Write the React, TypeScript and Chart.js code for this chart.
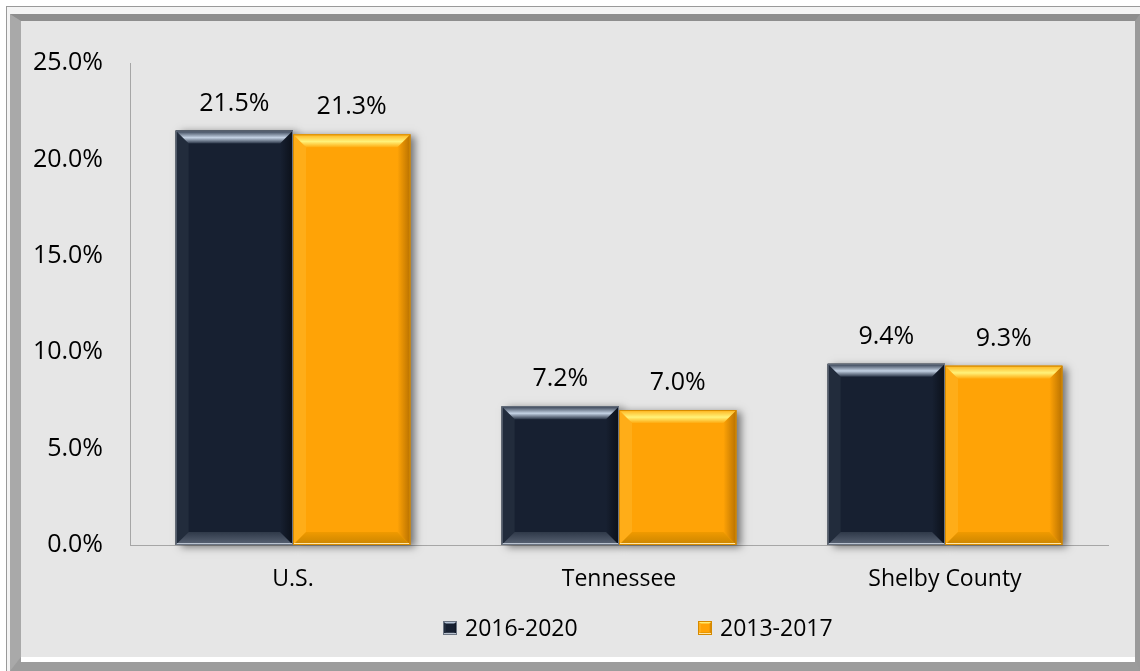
import React, { useEffect, useRef } from "react";
import { Chart, registerables } from "chart.js";

Chart.register(...registerables);

const categories = ["U.S.", "Tennessee", "Shelby County"];
const series2016 = [21.5, 7.2, 9.4];
const series2013 = [21.3, 7.0, 9.3];
const seriesLabels = ["2016-2020", "2013-2017"];
const yTicks = [0, 5, 10, 15, 20, 25];

const FONT = "'Open Sans', 'Noto Sans', sans-serif";
const FS = 23;
const FS_BIG = 25;

const palettes = [
  { base: "#172031", top: ["#2a3547", "#c4d2e4", "#2a3547"], left: "#222c3c", right: "#0b1019", bottom: ["#2f3949", "#5b6576"], edge: "#6b7482", bottomLine: "#b9c2cf" },
  { base: "#ffa306", top: ["#ffb21a", "#fff27a", "#ffab10"], left: "#ffad18", right: "#b87100", bottom: ["#f09a00", "#c98400"], edge: "#d58a00", bottomLine: "#ffe6a8" },
];

function bevel(ctx: CanvasRenderingContext2D, l: number, t: number, r: number, b: number, p: any, d: number) {
  ctx.save();
  const h = b - t;
  const dd = Math.min(d, h / 2, (r - l) / 2);
  ctx.fillStyle = p.left;
  ctx.beginPath();
  ctx.moveTo(l, t); ctx.lineTo(l + dd, t + dd); ctx.lineTo(l + dd, b - dd); ctx.lineTo(l, b); ctx.closePath(); ctx.fill();
  const gr = ctx.createLinearGradient(r - dd, 0, r, 0);
  gr.addColorStop(0, p.base);
  gr.addColorStop(1, p.right);
  ctx.fillStyle = gr;
  ctx.beginPath();
  ctx.moveTo(r, t); ctx.lineTo(r - dd, t + dd); ctx.lineTo(r - dd, b - dd); ctx.lineTo(r, b); ctx.closePath(); ctx.fill();
  const gt = ctx.createLinearGradient(0, t, 0, t + dd);
  gt.addColorStop(0, p.top[0]);
  gt.addColorStop(0.55, p.top[1]);
  gt.addColorStop(1, p.top[2]);
  ctx.fillStyle = gt;
  ctx.beginPath();
  ctx.moveTo(l, t); ctx.lineTo(r, t); ctx.lineTo(r - dd, t + dd); ctx.lineTo(l + dd, t + dd); ctx.closePath(); ctx.fill();
  const gb = ctx.createLinearGradient(0, b - dd, 0, b);
  gb.addColorStop(0, p.bottom[0]);
  gb.addColorStop(1, p.bottom[1]);
  ctx.fillStyle = gb;
  ctx.beginPath();
  ctx.moveTo(l, b); ctx.lineTo(r, b); ctx.lineTo(r - dd, b - dd); ctx.lineTo(l + dd, b - dd); ctx.closePath(); ctx.fill();
  ctx.fillStyle = p.bottomLine;
  ctx.fillRect(l + 1, b - 2, r - l - 2, 2);
  ctx.strokeStyle = p.edge;
  ctx.lineWidth = 1;
  ctx.strokeRect(l + 0.5, t + 0.5, r - l - 1, b - t - 1);
  ctx.restore();
}

const bevelPlugin = {
  id: "bevelPlugin",
  beforeDatasetsDraw(chart: any) {
    const ctx = chart.ctx;
    chart.data.datasets.forEach((ds: any, di: number) => {
      const meta = chart.getDatasetMeta(di);
      meta.data.forEach((bar: any) => {
        const l = bar.x - bar.width / 2;
        ctx.save();
        ctx.shadowColor = "rgba(0,0,0,0.5)";
        ctx.shadowBlur = 8;
        ctx.shadowOffsetX = 5;
        ctx.shadowOffsetY = 2;
        ctx.fillStyle = "#808080";
        ctx.fillRect(l, bar.y, bar.width, bar.base - bar.y);
        ctx.restore();
      });
    });
  },
  afterDatasetsDraw(chart: any) {
    const ctx = chart.ctx;
    chart.data.datasets.forEach((ds: any, di: number) => {
      const meta = chart.getDatasetMeta(di);
      meta.data.forEach((bar: any, i: number) => {
        const l = bar.x - bar.width / 2;
        const r = bar.x + bar.width / 2;
        ctx.fillStyle = palettes[di].base;
        ctx.fillRect(l, bar.y, r - l, bar.base - bar.y);
        bevel(ctx, l, bar.y, r, bar.base, palettes[di], 13);
        const v = ds.data[i];
        ctx.save();
        ctx.fillStyle = "#000";
        ctx.font = `${FS_BIG}px ${FONT}`;
        ctx.textAlign = "center";
        ctx.textBaseline = "middle";
        ctx.fillText(v.toFixed(1) + "%", bar.x, bar.y - 27);
        ctx.restore();
      });
    });
  },
  afterDraw(chart: any) {
    const ctx = chart.ctx;
    const cy = chart.chartArea.bottom + 83;
    const starts = [422, 677];
    ctx.save();
    ctx.font = `${FS}px ${FONT}`;
    ctx.textBaseline = "middle";
    ctx.textAlign = "left";
    chart.data.datasets.forEach((ds: any, di: number) => {
      const x = starts[di];
      const p = palettes[di];
      ctx.fillStyle = p.base;
      ctx.fillRect(x, cy - 7, 14, 14);
      bevel(ctx, x, cy - 7, x + 14, cy + 7, p, 3);
      ctx.fillStyle = "#000";
      ctx.fillText(ds.label, x + 22, cy + 1);
    });
    ctx.restore();
  },
};

export default function App() {
  const ref = useRef<HTMLCanvasElement>(null);
  useEffect(() => {
    document.body.style.margin = "0";
    const chart = new Chart(ref.current!, {
      type: "bar",
      data: {
        labels: categories,
        datasets: [
          { label: seriesLabels[0], data: series2016, backgroundColor: "rgba(0,0,0,0)", borderWidth: 0 },
          { label: seriesLabels[1], data: series2013, backgroundColor: "rgba(0,0,0,0)", borderWidth: 0 },
        ],
      },
      options: {
        animation: false,
        responsive: false,
        layout: { padding: { top: 36, right: 27, bottom: 52, left: 0 } },
        datasets: { bar: { categoryPercentage: 0.72, barPercentage: 1 } },
        plugins: { legend: { display: false }, tooltip: { enabled: false } },
        scales: {
          x: {
            grid: { display: false, drawTicks: false },
            border: { color: "#a6a6a6", width: 1 },
            ticks: { color: "#000", font: { family: FONT, size: FS }, padding: 21 },
            afterFit: (s: any) => { s.height = 60; },
          },
          y: {
            min: 0,
            max: 25,
            afterBuildTicks: (s: any) => { s.ticks = yTicks.map((v) => ({ value: v })); },
            grid: { display: false, drawTicks: false },
            border: { color: "#a6a6a6", width: 1 },
            ticks: { color: "#000", font: { family: FONT, size: FS_BIG }, padding: 27, callback: (v: any) => Number(v).toFixed(1) + "%" },
            afterFit: (s: any) => { s.width = 109; },
          },
        },
      },
      plugins: [bevelPlugin],
    });
    return () => chart.destroy();
  }, []);

  return (
    <div style={{ position: "relative", width: 1140, height: 671, background: "#ffffff", overflow: "hidden" }}>
      <div style={{ position: "absolute", left: 6, top: 6, width: 1140, height: 665, borderLeft: "1px solid #9a9a9a", borderTop: "1px solid #9a9a9a", boxSizing: "border-box", background: "#f4f4f4" }} />
      <div
        style={{
          position: "absolute",
          left: 10,
          top: 14,
          width: 1130,
          height: 657,
          boxSizing: "border-box",
          borderLeft: "11px solid #a9a9a9",
          borderTop: "7px solid #8e8e8e",
          borderRight: "5px solid #9a9a9a",
          borderBottom: "14px solid #9c9c9c",
          background: "#e6e6e6",
        }}
      />
      <div style={{ position: "absolute", left: 21, top: 657, width: 1114, height: 5, background: "#ffffff" }} />
      <canvas ref={ref} width={1114} height={636} style={{ position: "absolute", left: 21, top: 21, width: 1114, height: 636, background: "#e6e6e6" }} />
    </div>
  );
}
